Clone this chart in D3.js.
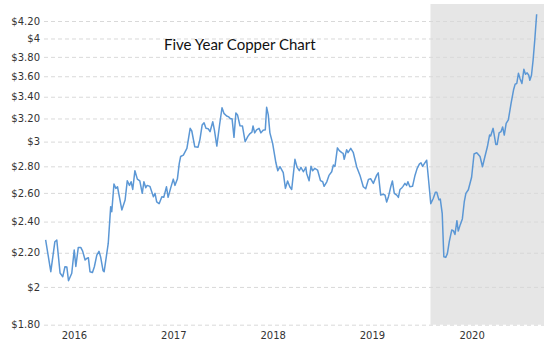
<!DOCTYPE html>
<html>
<head>
<meta charset="utf-8">
<script src="https://cdn.jsdelivr.net/npm/d3@7"></script>
<style>
  html, body { margin: 0; padding: 0; background: #fff; }
  svg { display: block; }
</style>
</head>
<body>
<svg id="chart" width="550" height="346"></svg>
<script>
// Weekly copper price, USD per pound
const dates = [
  "2016-03-19","2016-04-07","2016-04-22","2016-04-29","2016-05-11","2016-05-21","2016-05-29","2016-06-05","2016-06-11","2016-06-23",
  "2016-07-02","2016-07-08","2016-07-17","2016-07-26","2016-08-02","2016-08-11","2016-08-17","2016-08-23","2016-08-29","2016-09-07",
  "2016-09-14","2016-09-23","2016-10-01","2016-10-07","2016-10-16","2016-10-20","2016-11-04","2016-11-13","2016-11-17","2016-11-25",
  "2016-12-02","2016-12-08","2016-12-24","2017-01-05","2017-01-13","2017-01-21","2017-01-27","2017-02-02","2017-02-10","2017-02-19",
  "2017-02-28","2017-03-09","2017-03-15","2017-03-22","2017-03-27","2017-04-06","2017-04-19","2017-04-25","2017-05-01","2017-05-10",
  "2017-05-20","2017-05-27","2017-06-06","2017-06-12","2017-06-21","2017-07-01","2017-07-07","2017-07-16","2017-07-23","2017-07-28",
  "2017-08-07","2017-08-20","2017-09-01","2017-09-07","2017-09-18","2017-09-30","2017-10-07","2017-10-15","2017-10-22","2017-10-29",
  "2017-11-06","2017-11-13","2017-11-23","2017-11-29","2017-12-08","2017-12-18","2017-12-27","2018-01-03","2018-01-13","2018-01-21",
  "2018-01-27","2018-02-02","2018-02-09","2018-02-16","2018-02-22","2018-03-03","2018-03-12","2018-03-22","2018-04-01","2018-04-09",
  "2018-04-16","2018-04-20","2018-04-26","2018-05-03","2018-05-12","2018-05-19","2018-05-27","2018-06-04","2018-06-09","2018-06-15",
  "2018-06-21","2018-07-01","2018-07-13","2018-07-20","2018-07-28","2018-08-04","2018-08-09","2018-08-17","2018-08-25","2018-09-02",
  "2018-09-09","2018-09-21","2018-09-29","2018-10-07","2018-10-13","2018-10-22","2018-10-31","2018-11-03","2018-11-12","2018-11-19",
  "2018-11-25","2018-12-03","2018-12-13","2018-12-24","2019-01-01","2019-01-06","2019-01-16","2019-01-24","2019-02-03","2019-02-09",
  "2019-02-15","2019-02-24","2019-03-03","2019-03-12","2019-03-17","2019-03-21","2019-03-30","2019-04-04","2019-04-14","2019-04-23",
  "2019-05-06","2019-05-18","2019-05-30","2019-06-08","2019-06-18","2019-06-26","2019-07-06","2019-07-18","2019-07-24","2019-08-02",
  "2019-08-12","2019-08-18","2019-08-24","2019-08-30","2019-09-08","2019-09-14","2019-09-21","2019-09-30","2019-10-06","2019-10-12",
  "2019-10-20","2019-10-23","2019-10-30","2019-11-05","2019-11-10","2019-11-17","2019-11-27","2019-12-06","2019-12-14","2019-12-22",
  "2019-12-28","2020-01-03","2020-01-10","2020-01-18","2020-01-24","2020-02-02","2020-02-11","2020-02-19","2020-02-24","2020-03-03",
  "2020-03-08","2020-03-15","2020-03-21","2020-03-28","2020-04-03","2020-04-10","2020-04-19","2020-04-25","2020-05-01","2020-05-08",
  "2020-05-13","2020-05-20","2020-05-28","2020-06-04","2020-06-10","2020-06-19","2020-07-01","2020-07-10","2020-07-20","2020-08-01",
  "2020-08-10","2020-08-19","2020-08-28","2020-09-05","2020-09-09","2020-09-18","2020-09-28","2020-10-03","2020-10-10","2020-10-17",
  "2020-10-23","2020-10-29","2020-11-05","2020-11-13","2020-11-23","2020-12-02","2020-12-08","2020-12-14","2020-12-20","2020-12-26",
  "2021-01-02","2021-01-09","2021-01-15","2021-01-21","2021-01-27","2021-01-31","2021-02-06","2021-02-12","2021-02-18","2021-02-25"
];
const prices = [
  2.280,2.087,2.269,2.280,2.079,2.058,2.116,2.114,2.035,2.078,
  2.217,2.118,2.233,2.233,2.210,2.156,2.165,2.170,2.087,2.082,
  2.116,2.186,2.209,2.175,2.093,2.087,2.258,2.502,2.467,2.665,
  2.633,2.645,2.479,2.549,2.690,2.655,2.682,2.625,2.766,2.702,
  2.688,2.597,2.682,2.638,2.655,2.648,2.572,2.597,2.535,2.523,
  2.572,2.568,2.645,2.568,2.633,2.702,2.655,2.702,2.823,2.878,
  2.889,2.944,3.113,3.090,2.957,2.954,3.019,3.142,3.162,3.113,
  3.110,3.084,3.171,3.100,2.963,3.142,3.297,3.246,3.222,3.214,
  3.197,3.197,3.036,3.250,3.232,3.136,3.134,2.999,3.044,3.068,
  3.080,3.134,3.074,3.100,3.113,3.074,3.096,3.100,3.301,3.232,
  3.074,2.985,2.828,2.766,2.797,2.771,2.751,2.633,2.688,2.645,
  2.625,2.855,2.792,2.766,2.792,2.758,2.792,2.745,2.690,2.800,
  2.766,2.784,2.771,2.690,2.682,2.648,2.682,2.730,2.758,2.810,
  2.800,2.948,2.925,2.909,2.903,2.855,2.933,2.909,2.944,2.912,
  2.795,2.730,2.645,2.630,2.700,2.705,2.670,2.730,2.750,2.584,
  2.590,2.584,2.535,2.568,2.645,2.688,2.597,2.584,2.568,2.625,
  2.640,2.648,2.670,2.655,2.682,2.645,2.648,2.730,2.784,2.817,
  2.828,2.800,2.823,2.848,2.716,2.523,2.560,2.605,2.605,2.550,
  2.555,2.456,2.176,2.172,2.195,2.269,2.344,2.340,2.315,2.406,
  2.337,2.378,2.418,2.535,2.597,2.623,2.716,2.898,2.909,2.878,
  2.797,2.878,2.957,3.055,3.047,3.113,2.976,2.976,3.074,3.084,
  3.125,3.055,3.157,3.187,3.338,3.464,3.522,3.528,3.630,3.576,
  3.528,3.670,3.620,3.634,3.610,3.560,3.610,3.767,3.980,4.280
];

// Price gridlines and their labels
const priceTicks = [1.8, 2.0, 2.2, 2.4, 2.6, 2.8, 3.0, 3.2, 3.4, 3.6, 3.8, 4.0, 4.2];
const priceLabels = ["$1.80","$2","$2.20","$2.40","$2.60","$2.80","$3","$3.20","$3.40","$3.60","$3.80","$4","$4.20"];

// Year labels sit in the middle of each year
const yearTicks = ["2016-07-01","2017-07-01","2018-07-01","2019-07-01","2020-07-01"];
const yearLabels = ["2016","2017","2018","2019","2020"];

// Recession band
const recessionStart = "2020-02-01";

const title = "Five Year Copper Chart";

const parse = d3.utcParse("%Y-%m-%d");
const series = dates.map((d, i) => ({ date: parse(d), value: prices[i] }));

const svg = d3.select("#chart");
const plot = { left: 44, right: 544, top: 21, bottom: 324.7 };

const x = d3.scaleUtc()
  .domain([parse("2016-03-13"), parse("2021-03-24")])
  .range([plot.left, plot.right]);

const y = d3.scaleLog()
  .domain([1.8, 4.2])
  .range([plot.bottom, plot.top]);

// Shaded recession period
svg.append("rect")
  .attr("x", x(parse(recessionStart)))
  .attr("y", 4)
  .attr("width", plot.right - x(parse(recessionStart)))
  .attr("height", plot.bottom - 4)
  .attr("fill", "#e6e6e6");

// Horizontal dashed gridlines with price labels
const yAxis = d3.axisLeft(y)
  .tickValues(priceTicks)
  .tickFormat((d, i) => priceLabels[i])
  .tickSize(-(plot.right - plot.left))
  .tickPadding(4);

const gy = svg.append("g")
  .attr("transform", `translate(${plot.left},0)`)
  .call(yAxis);
gy.select(".domain").remove();
gy.selectAll(".tick line")
  .attr("stroke", "#d9d9d9")
  .attr("stroke-width", 1)
  .attr("stroke-dasharray", "4,3");
gy.selectAll(".tick text")
  .attr("fill", "#333")
  .style("font-family", "'DejaVu Sans', Verdana, sans-serif")
  .style("font-size", "10px");

// Year labels along the bottom
const xAxis = d3.axisBottom(x)
  .tickValues(yearTicks.map(parse))
  .tickFormat((d, i) => yearLabels[i])
  .tickSize(0)
  .tickPadding(7);

const gx = svg.append("g")
  .attr("transform", `translate(0,${plot.bottom})`)
  .call(xAxis);
gx.select(".domain").remove();
gx.selectAll(".tick text")
  .attr("fill", "#333")
  .style("font-family", "'DejaVu Sans', Verdana, sans-serif")
  .style("font-size", "10px");

// Price line
const line = d3.line()
  .x(d => x(d.date))
  .y(d => y(d.value));

svg.append("path")
  .datum(series)
  .attr("d", line)
  .attr("fill", "none")
  .attr("stroke", "#5b97d5")
  .attr("stroke-width", 1.5)
  .attr("stroke-linejoin", "round");

// Chart title
svg.append("text")
  .attr("x", 164)
  .attr("y", 50)
  .attr("fill", "#111")
  .style("font-family", "Lato, 'Open Sans', sans-serif")
  .style("font-size", "15px")
  .text(title);
</script>
</body>
</html>
